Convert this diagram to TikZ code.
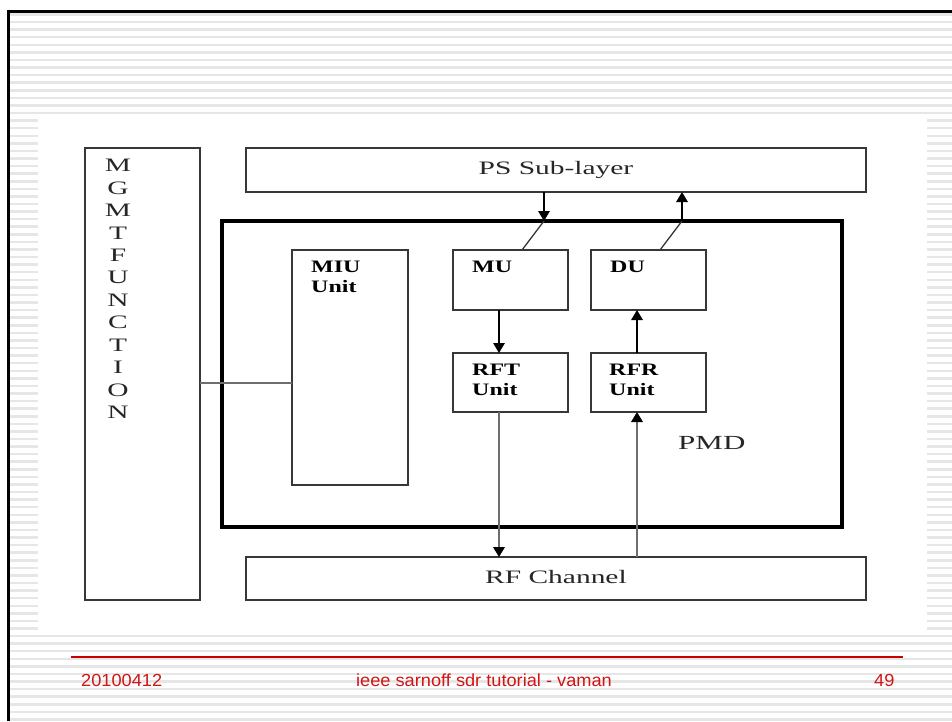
\documentclass[tikz,border=0pt]{standalone}
\usepackage{fontspec}
\usetikzlibrary{arrows.meta}
\newfontfamily\diagserif[FakeStretch=1.55]{Liberation Serif}
\newfontfamily\diagbold[FakeStretch=1.37]{Liberation Serif}
\newfontfamily\footfont[FakeStretch=1.04]{Liberation Sans}
\definecolor{stripegray}{RGB}{230,230,230}
\definecolor{boxgray}{RGB}{55,55,55}
\definecolor{wiregray}{RGB}{110,110,110}
\definecolor{footred}{RGB}{210,20,20}
\definecolor{rulered}{RGB}{200,0,0}
\tikzset{
  box/.style={draw=boxgray, line width=1.5pt, fill=white, inner sep=0pt, outer sep=0pt},
  frame/.style={draw=black, line width=4pt, inner sep=0pt, outer sep=0pt},
  serlbl/.style={font=\diagserif\fontsize{19}{22.45}\selectfont, inner sep=0pt, text=black!85},
  unitlbl/.style={font=\diagbold\bfseries\fontsize{17.5}{20.5}\selectfont, align=left,
                  anchor=north west, inner sep=0pt},
  footlbl/.style={font=\footfont\fontsize{17.5}{20}\selectfont, text=footred,
                  anchor=base west, inner sep=0pt},
  arr/.style={-{Triangle[width=11.5pt,length=10pt,color=black]}, line width=1.5pt, draw=black},
  arrgray/.style={arr, line width=2pt, draw=wiregray},
  wire/.style={line width=1.3pt, draw=wiregray},
  stripe/.style={line width=2.5pt, draw=stripegray}
}
\begin{document}
\begin{tikzpicture}[x=1pt,y=-1pt]
  % page and striped slide background
  \useasboundingbox (0,0) rectangle (952,721);
  \fill[white] (0,0) rectangle (952,721);
  \foreach \k in {0,...,93}
    \draw[stripe] (9,{14.5+7.58*\k}) -- (952,{14.5+7.58*\k});
  \draw[line width=3pt] (7.5,11) -- (952,11);
  \draw[line width=2.7pt] (8.7,9.5) -- (8.7,721);
  % white drawing area
  \fill[white] (38,116) rectangle (927,633);

  % blocks
  \node[box, minimum width=115pt, minimum height=452pt] (mgmt) at (142.5,374) {};
  \node[serlbl, align=center, anchor=north] (mgmtlbl) at (118,159)
    {M\\G\\M\\T\\F\\U\\N\\C\\T\\I\\O\\N};
  \node[box, minimum width=620pt, minimum height=44pt, text height=13pt, text depth=4pt,
        font=\diagserif\fontsize{19}{22}\selectfont, text=black!85] (ps) at (556,170) {PS Sub-layer};
  \node[frame, minimum width=620pt, minimum height=306pt] (pmd) at (532,374) {};
  \node[serlbl, font=\diagserif\fontsize{20}{22}\selectfont, anchor=base west] (pmdlbl) at (678,449) {PMD};
  \node[box, minimum width=116pt, minimum height=235pt] (miu) at (350,367.5) {};
  \node[box, minimum width=115pt, minimum height=60pt] (mu) at (510.5,280) {};
  \node[box, minimum width=115pt, minimum height=60pt] (du) at (648.5,280) {};
  \node[box, minimum width=115pt, minimum height=59pt] (rft) at (510.5,382.5) {};
  \node[box, minimum width=115pt, minimum height=59pt] (rfr) at (648.5,382.5) {};
  \node[box, minimum width=620pt, minimum height=43pt, text height=13pt, text depth=4pt,
        font=\diagserif\fontsize{19}{22}\selectfont, text=black!85] (rf) at (556,578.5) {RF Channel};

  % unit captions
  \node[unitlbl] (miulbl) at ([shift={(19,10.5)}]miu.north west) {MIU\\Unit};
  \node[unitlbl] (mulbl)  at ([shift={(19,10.5)}]mu.north west) {MU};
  \node[unitlbl] (dulbl)  at ([shift={(19,10.5)}]du.north west) {DU};
  \node[unitlbl] (rftlbl) at ([shift={(19,10.5)}]rft.north west) {RFT\\Unit};
  \node[unitlbl] (rfrlbl) at ([shift={(18,10.5)}]rfr.north west) {RFR\\Unit};

  % connector columns
  \coordinate (dnx) at (544,0);
  \coordinate (mux) at (522,0);
  \coordinate (upx) at (682,0);
  \coordinate (dux) at (660,0);
  \coordinate (txx) at (499,0);
  \coordinate (rxx) at (637,0);
  \coordinate (lk)  at (0,383);

  % PS sub-layer <-> MU / DU
  \draw[arr] (ps.south -| dnx) -- (pmd.north -| dnx);
  \draw[line width=1.3pt, draw=boxgray] (pmd.north -| dnx) -- (mu.north -| mux);
  \draw[line width=1.3pt, draw=boxgray] (du.north -| dux) -- (pmd.north -| upx);
  \draw[arr] (pmd.north -| upx) -- (ps.south -| upx);

  % transmit and receive chains
  \draw[arr] (mu.south -| txx) -- (rft.north -| txx);
  \draw[arr] (rfr.north -| rxx) -- (du.south -| rxx);
  \draw[arrgray] (rft.south -| txx) -- (rf.north -| txx);
  \draw[arrgray] (rf.north -| rxx) -- (rfr.south -| rxx);

  % management link
  \draw[wire] (mgmt.east |- lk) -- (miu.west |- lk);

  % footer
  \draw[line width=1.2pt, draw=rulered] (71,657) -- (903,657);
  \node[footlbl] (fdate) at (81,686.7) {20100412};
  \node[footlbl] (ftitle) at (356,686.7) {ieee sarnoff sdr tutorial - vaman};
  \node[footlbl] (fpage) at (874,686.7) {49};
\end{tikzpicture}
\end{document}
